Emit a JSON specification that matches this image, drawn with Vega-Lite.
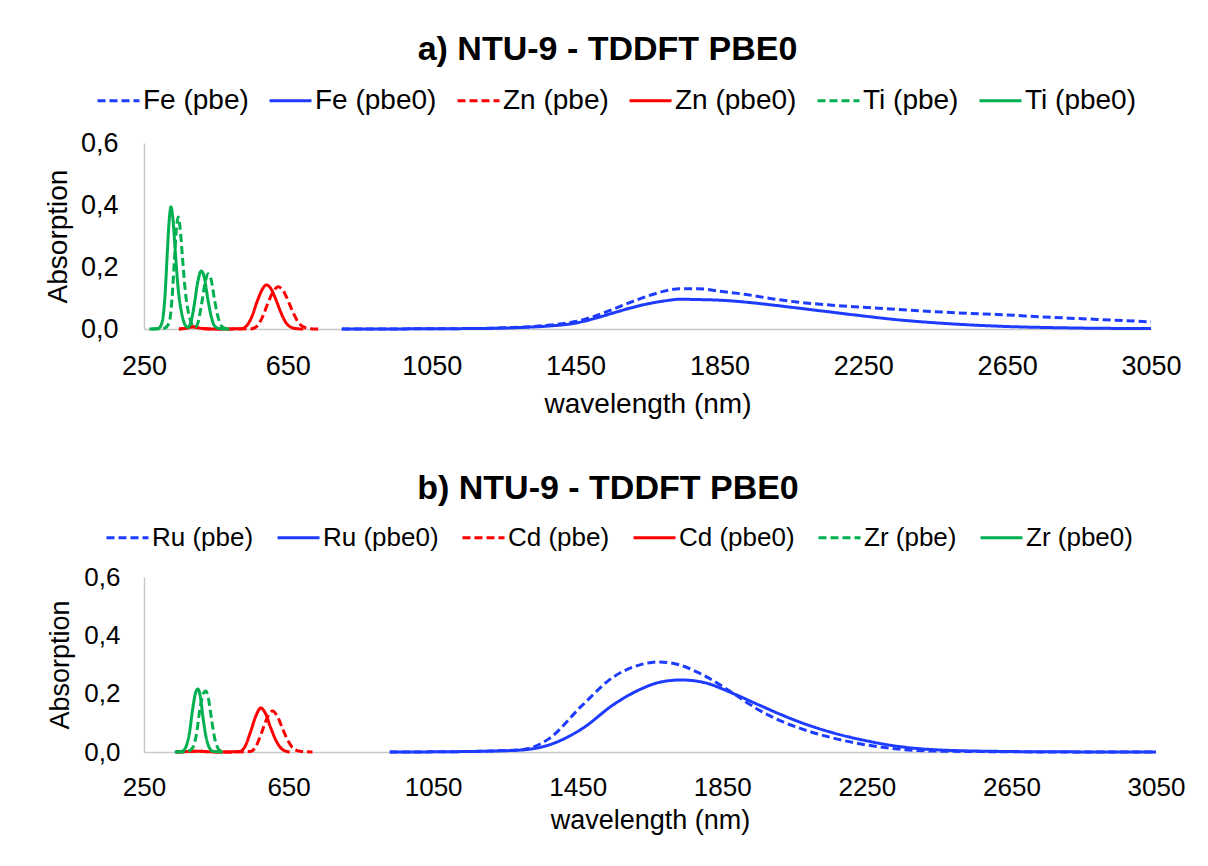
{
  "$schema": "https://vega.github.io/schema/vega-lite/v6.json",
  "background": "white",
  "padding": {"left": 44, "top": 33, "right": 5, "bottom": 5},
  "spacing": 54,
  "config": {
    "font": "Liberation Sans",
    "view": {"stroke": null},
    "axis": {"labelFont": "Liberation Sans", "labelColor": "#000000", "titleFont": "Liberation Sans", "titleFontWeight": "normal", "titleColor": "#000000", "grid": false, "ticks": false, "domainColor": "#C8C8C8", "domainWidth": 1.5, "labelFlush": false, "labelOverlap": false},
    "title": {"font": "Liberation Sans", "fontWeight": "bold", "fontSize": 34, "color": "#000000"}
  },
  "datasets": {
    "a": [
      {"series":"Fe (pbe)","wavelength":800,"absorption":0},{"series":"Fe (pbe)","wavelength":900,"absorption":0},{"series":"Fe (pbe)","wavelength":1000,"absorption":0.0005},{"series":"Fe (pbe)","wavelength":1100,"absorption":0.001},{"series":"Fe (pbe)","wavelength":1200,"absorption":0.002},{"series":"Fe (pbe)","wavelength":1300,"absorption":0.006},{"series":"Fe (pbe)","wavelength":1380,"absorption":0.013},{"series":"Fe (pbe)","wavelength":1450,"absorption":0.024},{"series":"Fe (pbe)","wavelength":1500,"absorption":0.04},{"series":"Fe (pbe)","wavelength":1550,"absorption":0.062},{"series":"Fe (pbe)","wavelength":1600,"absorption":0.085},{"series":"Fe (pbe)","wavelength":1650,"absorption":0.106},{"series":"Fe (pbe)","wavelength":1700,"absorption":0.123},{"series":"Fe (pbe)","wavelength":1740,"absorption":0.13},{"series":"Fe (pbe)","wavelength":1790,"absorption":0.13},{"series":"Fe (pbe)","wavelength":1850,"absorption":0.122},{"series":"Fe (pbe)","wavelength":1920,"absorption":0.112},{"series":"Fe (pbe)","wavelength":2000,"absorption":0.097},{"series":"Fe (pbe)","wavelength":2065,"absorption":0.087},{"series":"Fe (pbe)","wavelength":2150,"absorption":0.078},{"series":"Fe (pbe)","wavelength":2250,"absorption":0.07},{"series":"Fe (pbe)","wavelength":2343,"absorption":0.063},{"series":"Fe (pbe)","wavelength":2450,"absorption":0.056},{"series":"Fe (pbe)","wavelength":2550,"absorption":0.05},{"series":"Fe (pbe)","wavelength":2622,"absorption":0.047},{"series":"Fe (pbe)","wavelength":2750,"absorption":0.039},{"series":"Fe (pbe)","wavelength":2900,"absorption":0.031},{"series":"Fe (pbe)","wavelength":3050,"absorption":0.023},
      {"series":"Fe (pbe0)","wavelength":800,"absorption":0},{"series":"Fe (pbe0)","wavelength":900,"absorption":0},{"series":"Fe (pbe0)","wavelength":1000,"absorption":0.0005},{"series":"Fe (pbe0)","wavelength":1100,"absorption":0.001},{"series":"Fe (pbe0)","wavelength":1200,"absorption":0.002},{"series":"Fe (pbe0)","wavelength":1300,"absorption":0.005},{"series":"Fe (pbe0)","wavelength":1380,"absorption":0.01},{"series":"Fe (pbe0)","wavelength":1450,"absorption":0.019},{"series":"Fe (pbe0)","wavelength":1500,"absorption":0.033},{"series":"Fe (pbe0)","wavelength":1550,"absorption":0.05},{"series":"Fe (pbe0)","wavelength":1600,"absorption":0.067},{"series":"Fe (pbe0)","wavelength":1650,"absorption":0.081},{"series":"Fe (pbe0)","wavelength":1700,"absorption":0.091},{"series":"Fe (pbe0)","wavelength":1740,"absorption":0.096},{"series":"Fe (pbe0)","wavelength":1790,"absorption":0.095},{"series":"Fe (pbe0)","wavelength":1850,"absorption":0.093},{"series":"Fe (pbe0)","wavelength":1920,"absorption":0.087},{"series":"Fe (pbe0)","wavelength":2000,"absorption":0.077},{"series":"Fe (pbe0)","wavelength":2065,"absorption":0.068},{"series":"Fe (pbe0)","wavelength":2150,"absorption":0.056},{"series":"Fe (pbe0)","wavelength":2250,"absorption":0.042},{"series":"Fe (pbe0)","wavelength":2343,"absorption":0.03},{"series":"Fe (pbe0)","wavelength":2450,"absorption":0.02},{"series":"Fe (pbe0)","wavelength":2550,"absorption":0.013},{"series":"Fe (pbe0)","wavelength":2650,"absorption":0.008},{"series":"Fe (pbe0)","wavelength":2800,"absorption":0.004},{"series":"Fe (pbe0)","wavelength":2950,"absorption":0.002},{"series":"Fe (pbe0)","wavelength":3050,"absorption":0.002},
      {"series":"Zn (pbe)","wavelength":347,"absorption":0},{"series":"Zn (pbe)","wavelength":370,"absorption":0.003},{"series":"Zn (pbe)","wavelength":385,"absorption":0.007},{"series":"Zn (pbe)","wavelength":400,"absorption":0.004},{"series":"Zn (pbe)","wavelength":420,"absorption":0.001},{"series":"Zn (pbe)","wavelength":450,"absorption":0},{"series":"Zn (pbe)","wavelength":550,"absorption":0.001},{"series":"Zn (pbe)","wavelength":565,"absorption":0.01},{"series":"Zn (pbe)","wavelength":580,"absorption":0.04},{"series":"Zn (pbe)","wavelength":595,"absorption":0.085},{"series":"Zn (pbe)","wavelength":610,"absorption":0.122},{"series":"Zn (pbe)","wavelength":623,"absorption":0.136},{"series":"Zn (pbe)","wavelength":635,"absorption":0.127},{"series":"Zn (pbe)","wavelength":650,"absorption":0.093},{"series":"Zn (pbe)","wavelength":665,"absorption":0.052},{"series":"Zn (pbe)","wavelength":680,"absorption":0.02},{"series":"Zn (pbe)","wavelength":695,"absorption":0.006},{"series":"Zn (pbe)","wavelength":710,"absorption":0.001},{"series":"Zn (pbe)","wavelength":737,"absorption":0},
      {"series":"Zn (pbe0)","wavelength":347,"absorption":0},{"series":"Zn (pbe0)","wavelength":370,"absorption":0.003},{"series":"Zn (pbe0)","wavelength":385,"absorption":0.007},{"series":"Zn (pbe0)","wavelength":400,"absorption":0.004},{"series":"Zn (pbe0)","wavelength":420,"absorption":0.001},{"series":"Zn (pbe0)","wavelength":450,"absorption":0},{"series":"Zn (pbe0)","wavelength":520,"absorption":0.001},{"series":"Zn (pbe0)","wavelength":535,"absorption":0.01},{"series":"Zn (pbe0)","wavelength":550,"absorption":0.04},{"series":"Zn (pbe0)","wavelength":565,"absorption":0.09},{"series":"Zn (pbe0)","wavelength":580,"absorption":0.13},{"series":"Zn (pbe0)","wavelength":590,"absorption":0.142},{"series":"Zn (pbe0)","wavelength":600,"absorption":0.135},{"series":"Zn (pbe0)","wavelength":615,"absorption":0.1},{"series":"Zn (pbe0)","wavelength":630,"absorption":0.055},{"series":"Zn (pbe0)","wavelength":645,"absorption":0.02},{"series":"Zn (pbe0)","wavelength":660,"absorption":0.005},{"series":"Zn (pbe0)","wavelength":675,"absorption":0.001},{"series":"Zn (pbe0)","wavelength":693,"absorption":0},
      {"series":"Ti (pbe)","wavelength":270,"absorption":0},{"series":"Ti (pbe)","wavelength":305,"absorption":0.002},{"series":"Ti (pbe)","wavelength":320,"absorption":0.02},{"series":"Ti (pbe)","wavelength":328,"absorption":0.1},{"series":"Ti (pbe)","wavelength":335,"absorption":0.23},{"series":"Ti (pbe)","wavelength":340,"absorption":0.32},{"series":"Ti (pbe)","wavelength":345,"absorption":0.361},{"series":"Ti (pbe)","wavelength":350,"absorption":0.33},{"series":"Ti (pbe)","wavelength":357,"absorption":0.23},{"series":"Ti (pbe)","wavelength":365,"absorption":0.12},{"series":"Ti (pbe)","wavelength":375,"absorption":0.045},{"series":"Ti (pbe)","wavelength":385,"absorption":0.012},{"series":"Ti (pbe)","wavelength":392,"absorption":0.006},{"series":"Ti (pbe)","wavelength":400,"absorption":0.02},{"series":"Ti (pbe)","wavelength":410,"absorption":0.08},{"series":"Ti (pbe)","wavelength":420,"absorption":0.15},{"series":"Ti (pbe)","wavelength":428,"absorption":0.178},{"series":"Ti (pbe)","wavelength":437,"absorption":0.158},{"series":"Ti (pbe)","wavelength":446,"absorption":0.095},{"series":"Ti (pbe)","wavelength":455,"absorption":0.042},{"series":"Ti (pbe)","wavelength":464,"absorption":0.012},{"series":"Ti (pbe)","wavelength":474,"absorption":0.003},{"series":"Ti (pbe)","wavelength":487,"absorption":0},
      {"series":"Ti (pbe0)","wavelength":265,"absorption":0},{"series":"Ti (pbe0)","wavelength":290,"absorption":0.002},{"series":"Ti (pbe0)","wavelength":300,"absorption":0.02},{"series":"Ti (pbe0)","wavelength":308,"absorption":0.1},{"series":"Ti (pbe0)","wavelength":315,"absorption":0.25},{"series":"Ti (pbe0)","wavelength":320,"absorption":0.35},{"series":"Ti (pbe0)","wavelength":325,"absorption":0.394},{"series":"Ti (pbe0)","wavelength":330,"absorption":0.36},{"series":"Ti (pbe0)","wavelength":337,"absorption":0.25},{"series":"Ti (pbe0)","wavelength":345,"absorption":0.13},{"series":"Ti (pbe0)","wavelength":355,"absorption":0.05},{"series":"Ti (pbe0)","wavelength":365,"absorption":0.012},{"series":"Ti (pbe0)","wavelength":372,"absorption":0.006},{"series":"Ti (pbe0)","wavelength":380,"absorption":0.02},{"series":"Ti (pbe0)","wavelength":390,"absorption":0.08},{"series":"Ti (pbe0)","wavelength":400,"absorption":0.155},{"series":"Ti (pbe0)","wavelength":409,"absorption":0.187},{"series":"Ti (pbe0)","wavelength":418,"absorption":0.165},{"series":"Ti (pbe0)","wavelength":427,"absorption":0.1},{"series":"Ti (pbe0)","wavelength":436,"absorption":0.045},{"series":"Ti (pbe0)","wavelength":445,"absorption":0.012},{"series":"Ti (pbe0)","wavelength":455,"absorption":0.003},{"series":"Ti (pbe0)","wavelength":470,"absorption":0},{"series":"Ti (pbe0)","wavelength":487,"absorption":0}
    ],
    "b": [
      {"series":"Ru (pbe)","wavelength":930,"absorption":0},{"series":"Ru (pbe)","wavelength":1100,"absorption":0.001},{"series":"Ru (pbe)","wavelength":1200,"absorption":0.003},{"series":"Ru (pbe)","wavelength":1296,"absorption":0.008},{"series":"Ru (pbe)","wavelength":1370,"absorption":0.045},{"series":"Ru (pbe)","wavelength":1461,"absorption":0.158},{"series":"Ru (pbe)","wavelength":1552,"absorption":0.26},{"series":"Ru (pbe)","wavelength":1620,"absorption":0.298},{"series":"Ru (pbe)","wavelength":1674,"absorption":0.309},{"series":"Ru (pbe)","wavelength":1730,"absorption":0.299},{"series":"Ru (pbe)","wavelength":1800,"absorption":0.262},{"series":"Ru (pbe)","wavelength":1883,"absorption":0.199},{"series":"Ru (pbe)","wavelength":1950,"absorption":0.145},{"series":"Ru (pbe)","wavelength":2013,"absorption":0.106},{"series":"Ru (pbe)","wavelength":2068,"absorption":0.08},{"series":"Ru (pbe)","wavelength":2150,"absorption":0.05},{"series":"Ru (pbe)","wavelength":2250,"absorption":0.024},{"series":"Ru (pbe)","wavelength":2344,"absorption":0.009},{"series":"Ru (pbe)","wavelength":2450,"absorption":0.003},{"series":"Ru (pbe)","wavelength":2620,"absorption":0.001},{"series":"Ru (pbe)","wavelength":2800,"absorption":0},{"series":"Ru (pbe)","wavelength":3050,"absorption":0},
      {"series":"Ru (pbe0)","wavelength":930,"absorption":0},{"series":"Ru (pbe0)","wavelength":1100,"absorption":0.001},{"series":"Ru (pbe0)","wavelength":1200,"absorption":0.003},{"series":"Ru (pbe0)","wavelength":1296,"absorption":0.007},{"series":"Ru (pbe0)","wavelength":1370,"absorption":0.024},{"series":"Ru (pbe0)","wavelength":1461,"absorption":0.079},{"series":"Ru (pbe0)","wavelength":1552,"absorption":0.165},{"series":"Ru (pbe0)","wavelength":1620,"absorption":0.213},{"series":"Ru (pbe0)","wavelength":1680,"absorption":0.24},{"series":"Ru (pbe0)","wavelength":1737,"absorption":0.247},{"series":"Ru (pbe0)","wavelength":1800,"absorption":0.238},{"series":"Ru (pbe0)","wavelength":1883,"absorption":0.199},{"series":"Ru (pbe0)","wavelength":1950,"absorption":0.162},{"series":"Ru (pbe0)","wavelength":2013,"absorption":0.128},{"series":"Ru (pbe0)","wavelength":2068,"absorption":0.101},{"series":"Ru (pbe0)","wavelength":2150,"absorption":0.068},{"series":"Ru (pbe0)","wavelength":2250,"absorption":0.038},{"series":"Ru (pbe0)","wavelength":2344,"absorption":0.018},{"series":"Ru (pbe0)","wavelength":2450,"absorption":0.007},{"series":"Ru (pbe0)","wavelength":2620,"absorption":0.002},{"series":"Ru (pbe0)","wavelength":2800,"absorption":0.0005},{"series":"Ru (pbe0)","wavelength":3050,"absorption":0},
      {"series":"Cd (pbe)","wavelength":338,"absorption":0},{"series":"Cd (pbe)","wavelength":380,"absorption":0.002},{"series":"Cd (pbe)","wavelength":400,"absorption":0.003},{"series":"Cd (pbe)","wavelength":430,"absorption":0.001},{"series":"Cd (pbe)","wavelength":470,"absorption":0},{"series":"Cd (pbe)","wavelength":545,"absorption":0.002},{"series":"Cd (pbe)","wavelength":560,"absorption":0.02},{"series":"Cd (pbe)","wavelength":575,"absorption":0.065},{"series":"Cd (pbe)","wavelength":592,"absorption":0.12},{"series":"Cd (pbe)","wavelength":606,"absorption":0.141},{"series":"Cd (pbe)","wavelength":620,"absorption":0.12},{"series":"Cd (pbe)","wavelength":635,"absorption":0.075},{"series":"Cd (pbe)","wavelength":650,"absorption":0.035},{"series":"Cd (pbe)","wavelength":665,"absorption":0.01},{"series":"Cd (pbe)","wavelength":685,"absorption":0.002},{"series":"Cd (pbe)","wavelength":716,"absorption":0},
      {"series":"Cd (pbe0)","wavelength":338,"absorption":0},{"series":"Cd (pbe0)","wavelength":380,"absorption":0.002},{"series":"Cd (pbe0)","wavelength":400,"absorption":0.003},{"series":"Cd (pbe0)","wavelength":430,"absorption":0.001},{"series":"Cd (pbe0)","wavelength":470,"absorption":0},{"series":"Cd (pbe0)","wavelength":515,"absorption":0.002},{"series":"Cd (pbe0)","wavelength":530,"absorption":0.02},{"series":"Cd (pbe0)","wavelength":545,"absorption":0.07},{"series":"Cd (pbe0)","wavelength":560,"absorption":0.125},{"series":"Cd (pbe0)","wavelength":573,"absorption":0.151},{"series":"Cd (pbe0)","wavelength":585,"absorption":0.135},{"series":"Cd (pbe0)","wavelength":600,"absorption":0.085},{"series":"Cd (pbe0)","wavelength":615,"absorption":0.04},{"series":"Cd (pbe0)","wavelength":630,"absorption":0.012},{"series":"Cd (pbe0)","wavelength":645,"absorption":0.002},{"series":"Cd (pbe0)","wavelength":653,"absorption":0},
      {"series":"Zr (pbe)","wavelength":340,"absorption":0},{"series":"Zr (pbe)","wavelength":370,"absorption":0.002},{"series":"Zr (pbe)","wavelength":385,"absorption":0.015},{"series":"Zr (pbe)","wavelength":395,"absorption":0.06},{"series":"Zr (pbe)","wavelength":405,"absorption":0.15},{"series":"Zr (pbe)","wavelength":414,"absorption":0.2},{"series":"Zr (pbe)","wavelength":421,"absorption":0.209},{"series":"Zr (pbe)","wavelength":428,"absorption":0.185},{"series":"Zr (pbe)","wavelength":436,"absorption":0.12},{"series":"Zr (pbe)","wavelength":445,"absorption":0.05},{"series":"Zr (pbe)","wavelength":455,"absorption":0.012},{"series":"Zr (pbe)","wavelength":465,"absorption":0.002},{"series":"Zr (pbe)","wavelength":475,"absorption":0},
      {"series":"Zr (pbe0)","wavelength":335,"absorption":0},{"series":"Zr (pbe0)","wavelength":355,"absorption":0.002},{"series":"Zr (pbe0)","wavelength":365,"absorption":0.015},{"series":"Zr (pbe0)","wavelength":375,"absorption":0.06},{"series":"Zr (pbe0)","wavelength":385,"absorption":0.15},{"series":"Zr (pbe0)","wavelength":392,"absorption":0.2},{"series":"Zr (pbe0)","wavelength":399,"absorption":0.216},{"series":"Zr (pbe0)","wavelength":406,"absorption":0.19},{"series":"Zr (pbe0)","wavelength":413,"absorption":0.12},{"series":"Zr (pbe0)","wavelength":422,"absorption":0.05},{"series":"Zr (pbe0)","wavelength":432,"absorption":0.012},{"series":"Zr (pbe0)","wavelength":442,"absorption":0.002},{"series":"Zr (pbe0)","wavelength":468,"absorption":0}
    ]
  },
  "resolve": {"scale": {"color": "independent", "strokeDash": "independent"}, "legend": {"color": "independent", "strokeDash": "independent"}},
  "vconcat": [
    {
      "width": 1007,
      "height": 186,
      "title": {"text": "a) NTU-9 - TDDFT PBE0", "anchor": "middle", "frame": "group", "dx": -40, "offset": 11},
      "data": {"name": "a"},
      "mark": {"type": "line", "interpolate": "monotone", "strokeWidth": 3},
      "encoding": {
        "x": {"field": "wavelength", "type": "quantitative", "scale": {"domain": [250, 3050], "nice": false, "zero": false},
              "axis": {"values": [250, 650, 1050, 1450, 1850, 2250, 2650, 3050], "format": "d", "title": "wavelength (nm)", "labelFontSize": 27, "titleFontSize": 28, "labelPadding": 24, "titlePadding": 11}},
        "y": {"field": "absorption", "type": "quantitative", "scale": {"domain": [0, 0.6], "nice": false},
              "axis": {"values": [0, 0.2, 0.4, 0.6], "labelExpr": "replace(format(datum.value, '.1f'), '.', ',')", "title": "Absorption", "labelFontSize": 27, "titleFontSize": 28, "labelPadding": 26, "titlePadding": 8}},
        "color": {"field": "series", "type": "nominal",
                  "scale": {"domain": ["Fe (pbe)", "Fe (pbe0)", "Zn (pbe)", "Zn (pbe0)", "Ti (pbe)", "Ti (pbe0)"], "range": ["#1E3CFF", "#1E3CFF", "#FF0000", "#FF0000", "#00B050", "#00B050"]},
                  "legend": {"title": null, "orient": "none", "legendX": -48, "legendY": -65, "direction": "horizontal", "symbolType": "stroke", "symbolSize": 1764, "symbolStrokeWidth": 3, "labelFont": "Liberation Sans", "labelFontSize": 28, "labelColor": "#000000", "labelOffset": 2, "columnPadding": 14, "labelLimit": 400}},
        "strokeDash": {"field": "series", "type": "nominal",
                  "scale": {"domain": ["Fe (pbe)", "Fe (pbe0)", "Zn (pbe)", "Zn (pbe0)", "Ti (pbe)", "Ti (pbe0)"], "range": [[8, 4], [1, 0], [8, 4], [1, 0], [8, 4], [1, 0]]},
                  "legend": {"title": null, "orient": "none", "legendX": -48, "legendY": -65, "direction": "horizontal", "symbolType": "stroke", "symbolSize": 1764, "symbolStrokeWidth": 3, "labelFont": "Liberation Sans", "labelFontSize": 28, "labelColor": "#000000", "labelOffset": 2, "columnPadding": 14, "labelLimit": 400}}
      }
    },
    {
      "width": 1012,
      "height": 175,
      "title": {"text": "b) NTU-9 - TDDFT PBE0", "anchor": "middle", "frame": "group", "dx": -42, "offset": 9},
      "data": {"name": "b"},
      "mark": {"type": "line", "interpolate": "monotone", "strokeWidth": 3},
      "encoding": {
        "x": {"field": "wavelength", "type": "quantitative", "scale": {"domain": [250, 3050], "nice": false, "zero": false},
              "axis": {"values": [250, 650, 1050, 1450, 1850, 2250, 2650, 3050], "format": "d", "title": "wavelength (nm)", "labelFontSize": 26, "titleFontSize": 27, "labelPadding": 22, "titlePadding": 7}},
        "y": {"field": "absorption", "type": "quantitative", "scale": {"domain": [0, 0.6], "nice": false},
              "axis": {"values": [0, 0.2, 0.4, 0.6], "labelExpr": "replace(format(datum.value, '.1f'), '.', ',')", "title": "Absorption", "labelFontSize": 26, "titleFontSize": 27, "labelPadding": 24, "titlePadding": 9}},
        "color": {"field": "series", "type": "nominal",
                  "scale": {"domain": ["Ru (pbe)", "Ru (pbe0)", "Cd (pbe)", "Cd (pbe0)", "Zr (pbe)", "Zr (pbe0)"], "range": ["#1E3CFF", "#1E3CFF", "#FF0000", "#FF0000", "#00B050", "#00B050"]},
                  "legend": {"title": null, "orient": "none", "legendX": -39, "legendY": -62, "direction": "horizontal", "symbolType": "stroke", "symbolSize": 1764, "symbolStrokeWidth": 3, "labelFont": "Liberation Sans", "labelFontSize": 26, "labelColor": "#000000", "labelOffset": 2, "columnPadding": 17, "labelLimit": 400}},
        "strokeDash": {"field": "series", "type": "nominal",
                  "scale": {"domain": ["Ru (pbe)", "Ru (pbe0)", "Cd (pbe)", "Cd (pbe0)", "Zr (pbe)", "Zr (pbe0)"], "range": [[8, 4], [1, 0], [8, 4], [1, 0], [8, 4], [1, 0]]},
                  "legend": {"title": null, "orient": "none", "legendX": -39, "legendY": -62, "direction": "horizontal", "symbolType": "stroke", "symbolSize": 1764, "symbolStrokeWidth": 3, "labelFont": "Liberation Sans", "labelFontSize": 26, "labelColor": "#000000", "labelOffset": 2, "columnPadding": 17, "labelLimit": 400}}
      }
    }
  ]
}
